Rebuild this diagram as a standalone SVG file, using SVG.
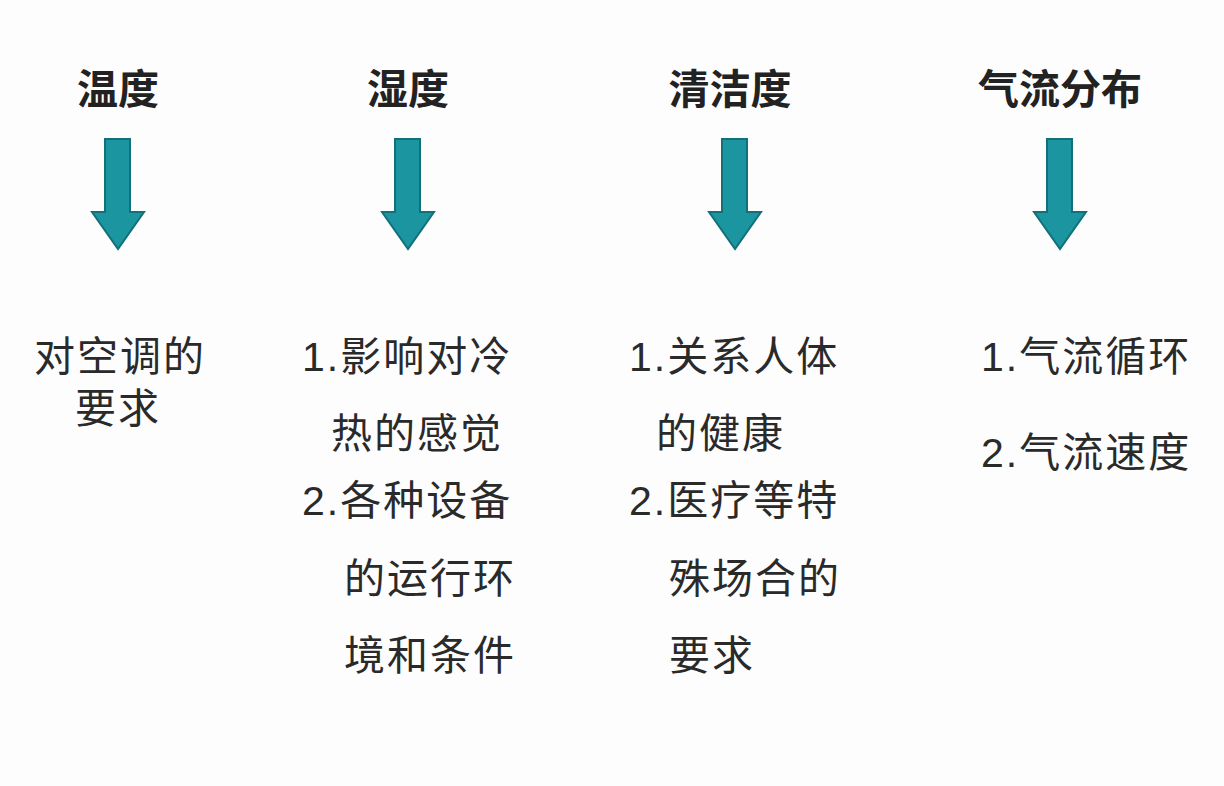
<svg xmlns="http://www.w3.org/2000/svg" width="1224" height="786" viewBox="0 0 1224 786">
<style>
.t{font-family:"Liberation Sans","Noto Sans CJK SC",sans-serif;font-size:41px;font-weight:bold;fill:#222;text-anchor:middle}
.b{font-family:"Liberation Sans","Noto Sans CJK SC",sans-serif;font-size:41px;letter-spacing:2px;fill:#2a2a2a}
.arr{fill:#1b96a1;stroke:#11707a;stroke-width:2;stroke-linejoin:miter}
</style>
<defs>
<path id="a" d="M-13,0 H12 V73 H26 L0,110 L-26,73 H-13 Z"/>
</defs>
<rect width="1224" height="786" fill="#fdfdfd"/>
<g id="connectors">
<use href="#a" class="arr" x="118" y="139"/>
<use href="#a" class="arr" x="408" y="139"/>
<use href="#a" class="arr" x="735" y="139"/>
<use href="#a" class="arr" x="1060" y="139"/>
</g>
<g id="col1">
<text class="t" x="118" y="104">温度</text>
<text class="b" x="34" y="371">对空调的</text>
<text class="b" x="75" y="423">要求</text>
</g>
<g id="col2">
<text class="t" x="408" y="104">湿度</text>
<text class="b" x="302" y="371">1.影响对冷</text>
<text class="b" x="331" y="448">热的感觉</text>
<text class="b" x="302" y="515">2.各种设备</text>
<text class="b" x="344" y="593">的运行环</text>
<text class="b" x="344" y="670">境和条件</text>
</g>
<g id="col3">
<text class="t" x="730" y="104">清洁度</text>
<text class="b" x="629" y="371">1.关系人体</text>
<text class="b" x="656" y="448">的健康</text>
<text class="b" x="629" y="515">2.医疗等特</text>
<text class="b" x="669" y="593">殊场合的</text>
<text class="b" x="669" y="670">要求</text>
</g>
<g id="col4">
<text class="t" x="1060" y="104">气流分布</text>
<text class="b" x="981" y="371">1.气流循环</text>
<text class="b" x="981" y="467">2.气流速度</text>
</g>
</svg>
